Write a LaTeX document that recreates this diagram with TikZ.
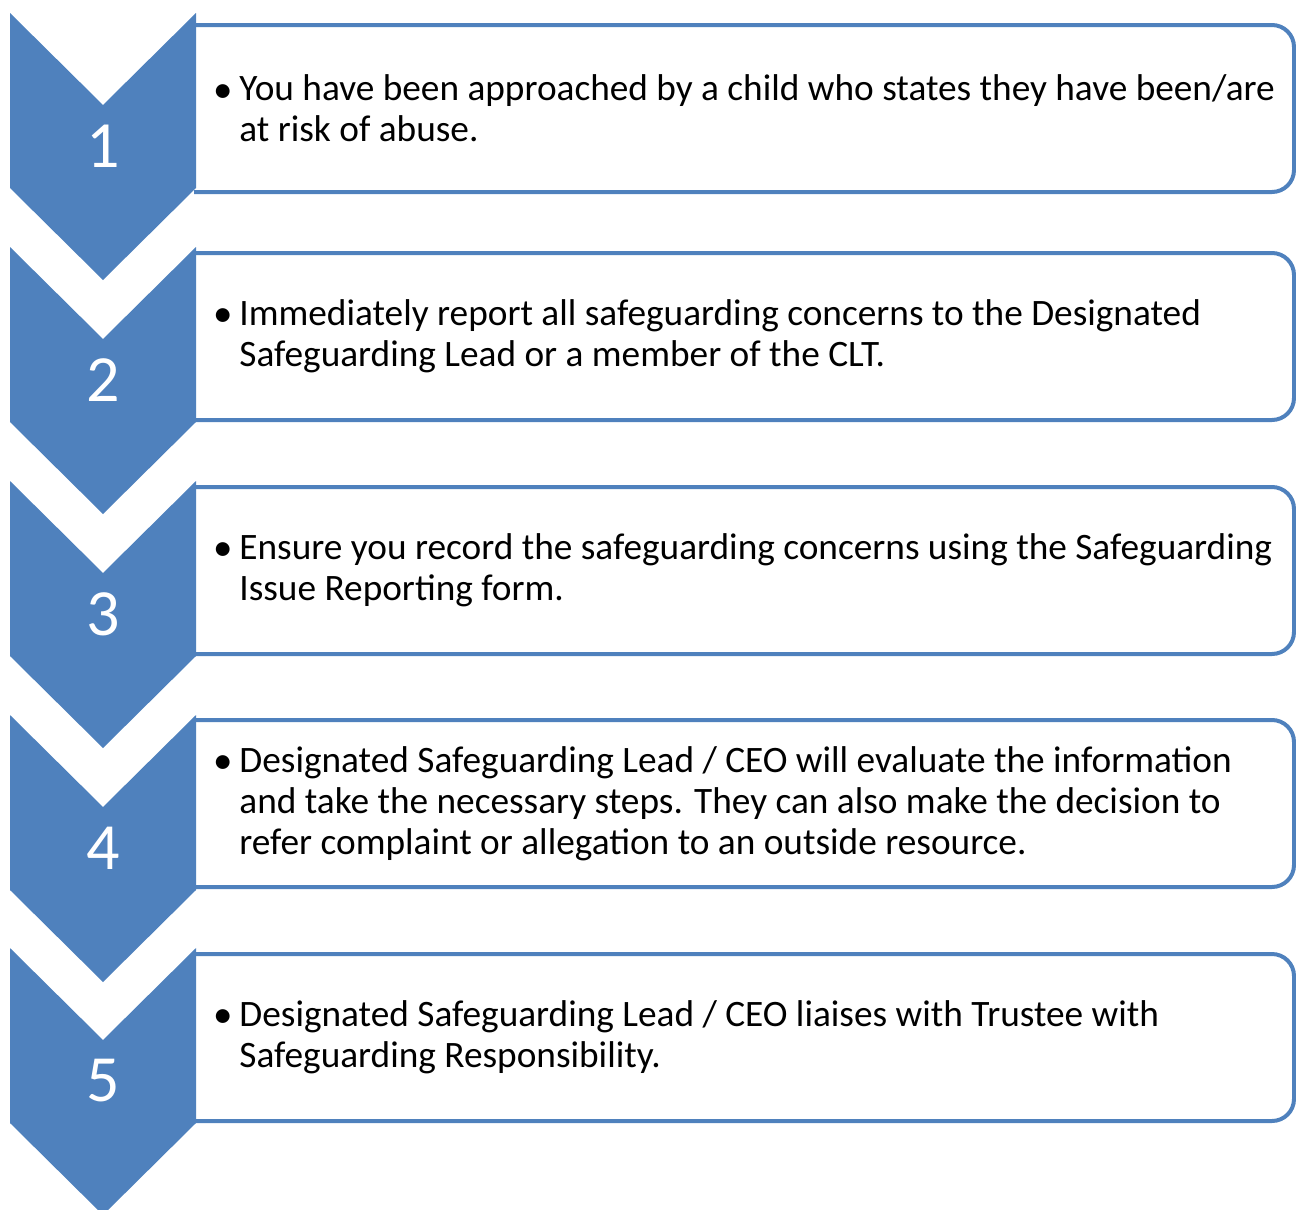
\documentclass[tikz,border=0pt]{standalone}
\usepackage{fontspec}
\setmainfont{Carlito}
\definecolor{accent}{HTML}{4F81BD}
\newcommand\bul{\makebox[11.5pt][l]{\hspace*{-1.5pt}\raisebox{-0.6pt}{\fontsize{19.5}{19.5}\selectfont\textbullet}}}
\newcommand\ind{\hspace*{11.5pt}}
\begin{document}
\begin{tikzpicture}[x=0.5pt,y=-0.5pt,
  chev/.style={fill=accent, draw=none},
  stepbox/.style={draw=accent, line width=2pt, fill=white, rounded corners=11pt},
  num/.style={text=white, font=\fontsize{33}{40}\selectfont, inner sep=0pt},
  txt/.style={anchor=west, align=left, inner sep=0pt, font=\fontsize{18.65}{20.5}\selectfont, text=black}]
\useasboundingbox (0,0) rectangle (1296,1210);

% boxes
\draw[stepbox] (194,25) -- (1294,25) -- (1294,192) -- (194,192);
\draw[stepbox] (194,253) -- (1294,253) -- (1294,420) -- (194,420);
\draw[stepbox] (194,487) -- (1294,487) -- (1294,654) -- (194,654);
\draw[stepbox] (194,720) -- (1294,720) -- (1294,887) -- (194,887);
\draw[stepbox] (194,954) -- (1294,954) -- (1294,1121) -- (194,1121);

% chevrons
\foreach \t in {13,247,481,715,948}{
  \fill[chev] (10,\t) -- (103,\t+92) -- (196,\t) -- (196,\t+175) -- (103,\t+267) -- (10,\t+175) -- cycle;
}

% numbers
\node[num] (n1) at (103,146) {1};
\node[num] (n2) at (103,380) {2};
\node[num] (n3) at (103,614) {3};
\node[num] (n4) at (103,848) {4};
\node[num] (n5) at (103,1081) {5};

% texts
\node[txt] (t1) at (216,108.5) {\bul You have been approached by a child who states they have been/are\\ \ind at risk of abuse.};
\node[txt] (t2) at (216,336.5) {\bul Immediately report all safeguarding concerns to the Designated\\ \ind Safeguarding Lead or a member of the CLT.};
\node[txt] (t3) at (216,570.5) {\bul Ensure you record the safeguarding concerns using the Safeguarding\\ \ind Issue Reporting form.};
\node[txt] (t4) at (216,803.5) {\bul Designated Safeguarding Lead / CEO will evaluate the information\\ \ind and take the necessary steps. They can also make the decision to\\ \ind refer complaint or allegation to an outside resource.};
\node[txt] (t5) at (216,1037.5) {\bul Designated Safeguarding Lead / CEO liaises with Trustee with\\ \ind Safeguarding Responsibility.};
\end{tikzpicture}
\end{document}
